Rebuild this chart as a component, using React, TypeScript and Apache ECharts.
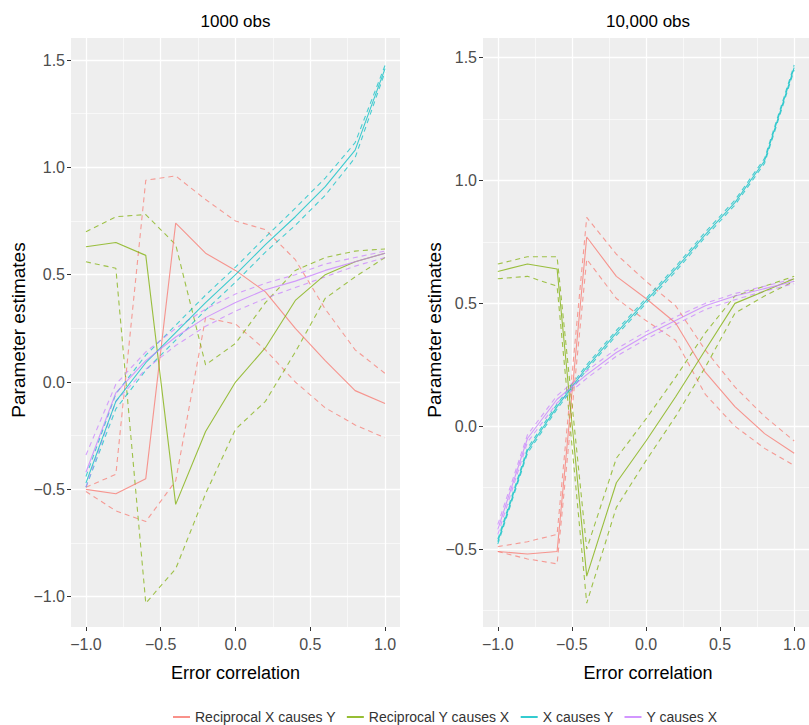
import React, { useEffect, useRef } from "react";
import * as echarts from "echarts";

// Error correlation (x)
const xValues = [-1, -0.8, -0.6, -0.4, -0.2, 0, 0.2, 0.4, 0.6, 0.8, 1];
const xTicks = [-1, -0.5, 0, 0.5, 1];
const yTicksLeft = [-1, -0.5, 0, 0.5, 1, 1.5];
const yTicksRight = [-0.5, 0, 0.5, 1, 1.5];

const panelTitles = ["1000 obs", "10,000 obs"];
const legendNames = ["Reciprocal X causes Y", "Reciprocal Y causes X", "X causes Y", "Y causes X"];

// ---- 1000 obs ----
const recipXY_1k = [-0.5, -0.52, -0.45, 0.74, 0.6, 0.52, 0.42, 0.25, 0.1, -0.04, -0.1];
const recipXY_1k_hi = [-0.49, -0.43, 0.94, 0.96, 0.85, 0.75, 0.71, 0.57, 0.34, 0.15, 0.04];
const recipXY_1k_lo = [-0.51, -0.6, -0.65, -0.46, 0.3, 0.27, 0.15, 0.0, -0.12, -0.2, -0.26];

const recipYX_1k = [0.63, 0.65, 0.59, -0.57, -0.23, 0.0, 0.16, 0.38, 0.5, 0.56, 0.6];
const recipYX_1k_hi = [0.7, 0.77, 0.78, 0.64, 0.08, 0.18, 0.37, 0.52, 0.58, 0.61, 0.62];
const recipYX_1k_lo = [0.56, 0.53, -1.03, -0.87, -0.52, -0.22, -0.09, 0.14, 0.39, 0.49, 0.58];

const xCausesY_1k = [-0.47, -0.09, 0.09, 0.23, 0.37, 0.5, 0.64, 0.77, 0.91, 1.08, 1.46];
const xCausesY_1k_hi = [-0.44, -0.055, 0.125, 0.265, 0.405, 0.535, 0.675, 0.81, 0.95, 1.115, 1.475];
const xCausesY_1k_lo = [-0.49, -0.125, 0.055, 0.195, 0.335, 0.465, 0.605, 0.73, 0.87, 1.045, 1.445];

const yCausesX_1k = [-0.42, -0.05, 0.1, 0.21, 0.3, 0.37, 0.43, 0.47, 0.52, 0.56, 0.6];
const yCausesX_1k_hi = [-0.34, -0.01, 0.14, 0.25, 0.34, 0.41, 0.46, 0.5, 0.55, 0.58, 0.61];
const yCausesX_1k_lo = [-0.49, -0.09, 0.06, 0.17, 0.26, 0.33, 0.39, 0.44, 0.49, 0.54, 0.58];

// ---- 10,000 obs ----
const recipXY_10k = [-0.51, -0.52, -0.51, 0.77, 0.61, 0.52, 0.42, 0.22, 0.08, -0.03, -0.11];
const recipXY_10k_hi = [-0.49, -0.47, -0.44, 0.85, 0.7, 0.59, 0.49, 0.31, 0.16, 0.04, -0.06];
const recipXY_10k_lo = [-0.51, -0.54, -0.56, 0.68, 0.52, 0.43, 0.35, 0.13, 0.0, -0.09, -0.16];

const recipYX_10k = [0.63, 0.66, 0.64, -0.61, -0.23, -0.06, 0.12, 0.31, 0.5, 0.55, 0.6];
const recipYX_10k_hi = [0.66, 0.69, 0.69, -0.5, -0.13, 0.03, 0.2, 0.38, 0.53, 0.57, 0.61];
const recipYX_10k_lo = [0.6, 0.61, 0.57, -0.72, -0.33, -0.14, 0.04, 0.24, 0.46, 0.53, 0.59];

const xCausesY_10k = [-0.47, -0.1, 0.08, 0.24, 0.38, 0.51, 0.64, 0.78, 0.91, 1.08, 1.46];
const xCausesY_10k_hi = [-0.46, -0.09, 0.09, 0.25, 0.39, 0.52, 0.65, 0.79, 0.92, 1.09, 1.47];
const xCausesY_10k_lo = [-0.48, -0.11, 0.07, 0.23, 0.37, 0.5, 0.63, 0.77, 0.9, 1.07, 1.45];

const yCausesX_10k = [-0.42, -0.05, 0.11, 0.21, 0.3, 0.37, 0.43, 0.49, 0.53, 0.56, 0.59];
const yCausesX_10k_hi = [-0.4, -0.035, 0.125, 0.225, 0.315, 0.385, 0.445, 0.5, 0.54, 0.57, 0.6];
const yCausesX_10k_lo = [-0.44, -0.065, 0.095, 0.195, 0.285, 0.355, 0.415, 0.475, 0.515, 0.55, 0.58];

const colors = ["#F8766D", "#7CAE00", "#00BFC4", "#C77CFF"];

const panels = [
  [
    [recipXY_1k, recipXY_1k_hi, recipXY_1k_lo],
    [recipYX_1k, recipYX_1k_hi, recipYX_1k_lo],
    [xCausesY_1k, xCausesY_1k_hi, xCausesY_1k_lo],
    [yCausesX_1k, yCausesX_1k_hi, yCausesX_1k_lo],
  ],
  [
    [recipXY_10k, recipXY_10k_hi, recipXY_10k_lo],
    [recipYX_10k, recipYX_10k_hi, recipYX_10k_lo],
    [xCausesY_10k, xCausesY_10k_hi, xCausesY_10k_lo],
    [yCausesX_10k, yCausesX_10k_hi, yCausesX_10k_lo],
  ],
];

const FONT = "'Liberation Sans', Arial, sans-serif";

const fmt = (v: number) => (v < 0 ? "\u2212" : "") + Math.abs(v).toFixed(1);

function buildOption() {
  const series: any[] = [];
  // solid lines first so legend takes their style
  panels.forEach((panel, p) => {
    panel.forEach((group, m) => {
      series.push({
        type: "line",
        name: legendNames[m],
        xAxisIndex: p,
        yAxisIndex: p,
        data: xValues.map((x, i) => [x, group[0][i]]),
        showSymbol: false,
        symbol: "none",
        color: colors[m],
        lineStyle: { color: colors[m], width: 1.1, opacity: 0.75 },
        z: 3,
      });
    });
  });
  panels.forEach((panel, p) => {
    panel.forEach((group, m) => {
      [1, 2].forEach((k) => {
        series.push({
          type: "line",
          name: legendNames[m],
          xAxisIndex: p,
          yAxisIndex: p,
          data: xValues.map((x, i) => [x, group[k][i]]),
          showSymbol: false,
          symbol: "none",
          color: colors[m],
          lineStyle: { color: colors[m], width: 1.1, type: [5, 4], opacity: 0.7 },
          z: 2,
        });
      });
    });
  });

  const axisCommon = {
    type: "value",
    axisLine: { show: false, onZero: false },
    axisTick: { show: true, length: 4, lineStyle: { color: "#333333", width: 1 } },
    splitLine: { show: true, lineStyle: { color: "#FFFFFF", width: 1.3 } },
    minorTick: { show: false, splitNumber: 2 },
    minorSplitLine: { show: true, lineStyle: { color: "#FFFFFF", width: 0.6 } },
  };

  const xAxis = [0, 1].map((i) => ({
    ...axisCommon,
    gridIndex: i,
    min: -1.1,
    max: 1.1,
    axisTick: { ...axisCommon.axisTick, customValues: xTicks },
    axisLabel: {
      customValues: xTicks,
      formatter: fmt,
      color: "#4D4D4D",
      fontSize: 16,
      fontFamily: FONT,
      margin: 9,
    },
  }));

  const yAxis = [
    { min: -1.141, max: 1.6025, ticks: yTicksLeft },
    { min: -0.817, max: 1.58, ticks: yTicksRight },
  ].map((a, i) => ({
    ...axisCommon,
    gridIndex: i,
    min: a.min,
    max: a.max,
    axisTick: { ...axisCommon.axisTick, customValues: a.ticks },
    axisLabel: {
      customValues: a.ticks,
      formatter: fmt,
      color: "#4D4D4D",
      fontSize: 16,
      fontFamily: FONT,
      margin: 6,
    },
  }));

  const graphic: any[] = [];
  const centers = [235.5, 648];
  const yTitleX = [18, 434];
  panelTitles.forEach((t, i) => {
    graphic.push({
      type: "text",
      x: centers[i],
      y: 21,
      style: { text: t, align: "center", verticalAlign: "middle", fontSize: 17, fontFamily: FONT, fill: "#000000" },
    });
    graphic.push({
      type: "text",
      x: centers[i],
      y: 673,
      style: { text: "Error correlation", align: "center", verticalAlign: "middle", fontSize: 18, fontFamily: FONT, fill: "#000000" },
    });
    graphic.push({
      type: "text",
      x: yTitleX[i],
      y: 330,
      rotation: Math.PI / 2,
      style: { text: "Parameter estimates", align: "center", verticalAlign: "middle", fontSize: 19, fontFamily: FONT, fill: "#000000" },
    });
  });

  return {
    animation: false,
    backgroundColor: "#FFFFFF",
    textStyle: { fontFamily: FONT },
    grid: [
      { left: 71, top: 38, width: 329, height: 589, show: true, backgroundColor: "#EEEEEE", borderWidth: 0 },
      { left: 483, top: 38, width: 330, height: 589, show: true, backgroundColor: "#EEEEEE", borderWidth: 0 },
    ],
    xAxis,
    yAxis,
    legend: {
      data: legendNames.map((n) => ({ name: n, icon: "rect" })),
      left: 168,
      top: 705,
      itemWidth: 17,
      itemHeight: 1.6,
      itemGap: 11,
      textStyle: { fontSize: 14, color: "#333333", fontFamily: FONT },
      selectedMode: false,
    },
    graphic,
    series,
  };
}

export default function App() {
  const ref = useRef<HTMLDivElement>(null);
  useEffect(() => {
    if (!ref.current) return;
    const chart = echarts.init(ref.current, undefined, { renderer: "svg" });
    chart.setOption(buildOption() as any);
    return () => chart.dispose();
  }, []);
  return (
    <div
      ref={ref}
      style={{ position: "absolute", left: 0, top: 0, width: 809, height: 725, overflow: "hidden" }}
    />
  );
}
